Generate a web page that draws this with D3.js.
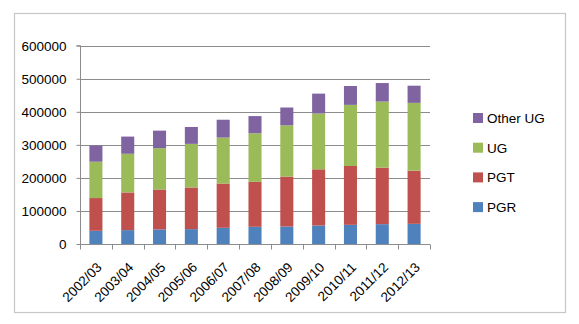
<!DOCTYPE html>
<html><head><meta charset="utf-8">
<script src="https://cdn.jsdelivr.net/npm/d3@7"></script>
<style>
html,body{margin:0;padding:0;background:#fff;}
svg{display:block;font-family:"Liberation Sans",Arial,sans-serif;}
</style></head>
<body><svg id="c" width="579" height="324"></svg>
<script>
const categories = ["2002/03","2003/04","2004/05","2005/06","2006/07","2007/08","2008/09","2009/10","2010/11","2011/12","2012/13"];
const PGR = [40000,42000,44000,45000,49000,52000,53000,56000,58000,60000,61000];
const PGT = [99000,114000,121000,126000,134000,136000,151000,170000,178000,171000,161000];
const UG = [110000,117000,125000,132000,139000,147000,155000,169000,185000,200000,205000];
const OtherUG = [49000,52000,53000,51000,54000,52000,54000,60000,57000,56000,52000];
const yTicks = [0,100000,200000,300000,400000,500000,600000];
const seriesNames = ["PGR","PGT","UG","Other UG"];
const seriesValues = [PGR,PGT,UG,OtherUG];
const colors = ["#4f81bd","#c0504d","#9bbb59","#8064a2"];

(function(){
const svg = d3.select("#c");
svg.append("rect").attr("x",14.5).attr("y",13.5).attr("width",551).attr("height",299)
  .attr("fill","#fff").attr("stroke","#c6c6c6").attr("stroke-width",1.2);

const pl=80, pr=430, pt=45.7, pb=244;
const x = d3.scaleBand().domain(categories).range([pl,pr]).paddingInner(0.59).paddingOuter(0.295);
const xt = d3.scaleBand().domain(categories).range([pl,pr]);
const y = d3.scaleLinear().domain([0,600000]).range([pb,pt]);

svg.append("g").selectAll("line").data(yTicks.filter(d=>d>0)).join("line")
  .attr("x1",pl).attr("x2",pr).attr("y1",d=>Math.round(y(d))+0.5).attr("y2",d=>Math.round(y(d))+0.5)
  .attr("stroke","#8c8c8c").attr("stroke-width",1);

const ya = svg.append("g").attr("transform",`translate(${pl+0.5},0)`)
  .call(d3.axisLeft(y).tickValues(yTicks).tickFormat(d3.format("d")).tickSize(4).tickPadding(10));
ya.select(".domain").attr("stroke","#8c8c8c").attr("d",`M-4,${y(600000)}H0V${y(0)}`);
ya.selectAll(".tick line").attr("stroke","#8c8c8c");
ya.selectAll(".tick text").attr("font-size","13.5px").attr("fill","#000").attr("font-family","Liberation Sans, Arial, sans-serif");

const table = categories.map((c,i)=>{const o={cat:c}; seriesNames.forEach((s,j)=>o[s]=seriesValues[j][i]); return o;});
const stacked = d3.stack().keys(seriesNames)(table);
svg.append("g").selectAll("g").data(stacked).join("g").attr("fill",(d,i)=>colors[i])
  .selectAll("rect").data(d=>d).join("rect")
  .attr("x",d=>x(d.data.cat)).attr("width",x.bandwidth())
  .attr("y",d=>y(d[1])).attr("height",d=>y(d[0])-y(d[1]));

const xa = svg.append("g").attr("transform",`translate(0,${Math.round(pb)+0.5})`);
xa.append("line").attr("x1",pl).attr("x2",pr).attr("stroke","#8c8c8c");
xa.selectAll(".tk").data(categories.concat(["__end"])).join("line").attr("class","tk")
  .attr("x1",(d,i)=>Math.round(pl+i*xt.step())+0.5).attr("x2",(d,i)=>Math.round(pl+i*xt.step())+0.5)
  .attr("y1",0).attr("y2",5).attr("stroke","#8c8c8c");
xa.selectAll(".lbl").data(categories).join("text").attr("class","lbl")
  .attr("transform",d=>`translate(${xt(d)+xt.bandwidth()/2},${17}) rotate(-45)`)
  .attr("text-anchor","end").attr("dy","0.7em").attr("font-size","13.5px").attr("fill","#000")
  .text(d=>d);

const legendOrder = [3,2,1,0];
const lg = svg.append("g");
legendOrder.forEach((si,k)=>{
  const yy = 118 + k*29.7;
  lg.append("rect").attr("x",473).attr("y",yy-5).attr("width",10).attr("height",10).attr("fill",colors[si]);
  lg.append("text").attr("x",487).attr("y",yy).attr("dy","0.36em").attr("font-size","13.5px").attr("fill","#000").text(seriesNames[si]);
});
})();
</script></body></html>
